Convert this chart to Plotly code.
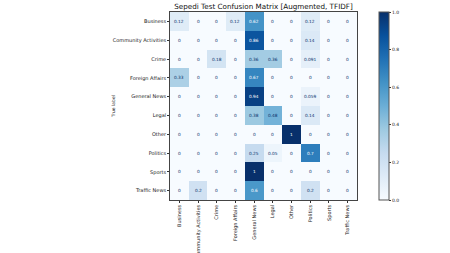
import plotly.graph_objects as go

labels = ["Business", "Community Activities", "Crime", "Foreign Affairs", "General News",
          "Legal", "Other", "Politics", "Sports", "Traffic News"]

row_business = [0.12, 0, 0, 0.12, 0.62, 0, 0, 0.12, 0, 0]
row_community = [0, 0, 0, 0, 0.86, 0, 0, 0.14, 0, 0]
row_crime = [0, 0, 0.18, 0, 0.36, 0.36, 0, 0.091, 0, 0]
row_foreign = [0.33, 0, 0, 0, 0.67, 0, 0, 0, 0, 0]
row_general = [0, 0, 0, 0, 0.94, 0, 0, 0.059, 0, 0]
row_legal = [0, 0, 0, 0, 0.38, 0.48, 0, 0.14, 0, 0]
row_other = [0, 0, 0, 0, 0, 0, 1, 0, 0, 0]
row_politics = [0, 0, 0, 0, 0.25, 0.05, 0, 0.7, 0, 0]
row_sports = [0, 0, 0, 0, 1, 0, 0, 0, 0, 0]
row_traffic = [0, 0.2, 0, 0, 0.6, 0, 0, 0.2, 0, 0]

matrix = [row_business, row_community, row_crime, row_foreign, row_general,
          row_legal, row_other, row_politics, row_sports, row_traffic]

colorbar_ticks = [0.0, 0.2, 0.4, 0.6, 0.8, 1.0]

blues = [[0.0, "#f7fbff"], [0.125, "#deebf7"], [0.25, "#c6dbef"], [0.375, "#9ecae1"],
         [0.5, "#6baed6"], [0.625, "#4292c6"], [0.75, "#2171b5"], [0.875, "#08519c"],
         [1.0, "#08306b"]]

font = "DejaVu Sans"

fig = go.Figure(go.Heatmap(
    z=matrix, x=labels, y=labels, zmin=0, zmax=1, colorscale=blues,
    xgap=0, ygap=0, hoverinfo="skip",
    colorbar=dict(
        x=1.118, xanchor="left", y=0.5, yanchor="middle", len=1.0, lenmode="fraction",
        thickness=10, thicknessmode="pixels", outlinewidth=1, outlinecolor="#555555",
        tickvals=colorbar_ticks, ticktext=[f"{t:.1f}" for t in colorbar_ticks],
        ticks="outside", ticklen=2, tickcolor="#333333",
        tickfont=dict(family=font, size=4.5, color="#222222"), xpad=0, ypad=0,
    ),
))

annotations = []
for i, row in enumerate(matrix):
    for j, v in enumerate(row):
        txt = f"{v:.2g}"
        annotations.append(dict(
            x=labels[j], y=labels[i], xref="x", yref="y", text=txt, showarrow=False,
            font=dict(family=font, size=4.3, color="#ffffff" if v > 0.5 else "#08306b"),
        ))
annotations.append(dict(
    x=-0.305, y=0.5, xref="paper", yref="paper", text="True label", showarrow=False,
    textangle=-90, xanchor="center", yanchor="middle",
    font=dict(family=font, size=4.5, color="#222222"),
))

fig.update_layout(
    width=450, height=253,
    margin=dict(l=170, r=93, t=12, b=53, autoexpand=False),
    paper_bgcolor="white", plot_bgcolor="white",
    title=dict(text="Sepedi Test Confusion Matrix [Augmented, TFIDF]",
               x=(170 + 93.5) / 450, xanchor="center", y=0.975, yanchor="middle",
               font=dict(family=font, size=7.2, color="#111111")),
    annotations=annotations,
    showlegend=False,
)
fig.update_xaxes(
    type="category", tickangle=-90, ticks="outside", ticklen=2, tickcolor="#333333",
    tickfont=dict(family=font, size=5, color="#222222"), automargin=False,
    showline=True, linecolor="#444444", linewidth=0.8, mirror=True, showgrid=False,
)
fig.update_yaxes(
    type="category", autorange="reversed", ticks="outside", ticklen=2, tickcolor="#333333",
    tickfont=dict(family=font, size=5, color="#222222"), automargin=False,
    showline=True, linecolor="#444444", linewidth=0.8, mirror=True, showgrid=False,
)

fig.write_html("out.html", config={"displayModeBar": False},
               post_script="document.body.style.margin='0';document.body.style.overflow='hidden';")
